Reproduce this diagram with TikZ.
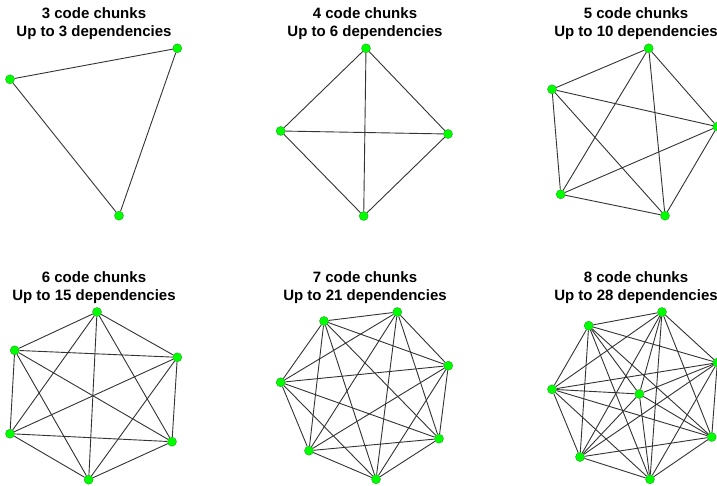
\documentclass[tikz,border=0pt]{standalone}
\usepackage{fontspec}
\setmainfont{Liberation Sans}
\usetikzlibrary{backgrounds}

\tikzset{
  chunk/.style={circle, fill=green, draw=green!60!black, line width=0.3pt,
    inner sep=0pt, minimum size=9pt},
  dep/.style={draw=black!80, line width=0.9pt},
  heading/.style={font=\bfseries\fontsize{15}{18}\selectfont, align=center}
}

\begin{document}
\begin{tikzpicture}[x=1pt, y=-1pt]
    \clip (0, 0) rectangle (717, 486);

    % headings
    \node [heading] (t3) at (94, 23.5) {3 code chunks\\Up to 3 dependencies};
    \node [heading] (t4) at (365, 23.5) {4 code chunks\\Up to 6 dependencies};
    \node [heading] (t5) at (636, 23.5) {5 code chunks\\Up to 10 dependencies};
    \node [heading] (t6) at (94, 287.5) {6 code chunks\\Up to 15 dependencies};
    \node [heading] (t7) at (365, 287.5) {7 code chunks\\Up to 21 dependencies};
    \node [heading] (t8) at (636, 287.5) {8 code chunks\\Up to 28 dependencies};

    % 3 chunks
    \node [chunk] (a1) at (177.3, 48.3) {};
    \node [chunk] (a2) at (10, 79.3) {};
    \node [chunk] (a3) at (119, 215.7) {};

    % 4 chunks
    \node [chunk] (b1) at (366, 48.3) {};
    \node [chunk] (b2) at (280.7, 131) {};
    \node [chunk] (b3) at (448, 134) {};
    \node [chunk] (b4) at (363.7, 216) {};

    % 5 chunks
    \node [chunk] (c1) at (648.7, 48.3) {};
    \node [chunk] (c2) at (552, 89.3) {};
    \node [chunk] (c3) at (717.3, 126.7) {};
    \node [chunk] (c4) at (560.7, 194.3) {};
    \node [chunk] (c5) at (665, 215.7) {};

    % 6 chunks
    \node [chunk] (d1) at (97, 312) {};
    \node [chunk] (d2) at (14.7, 350.3) {};
    \node [chunk] (d3) at (177.3, 357.3) {};
    \node [chunk] (d4) at (10, 433.7) {};
    \node [chunk] (d5) at (172, 441.7) {};
    \node [chunk] (d6) at (88.7, 479.7) {};

    % 7 chunks
    \node [chunk] (e1) at (397.3, 312) {};
    \node [chunk] (e2) at (324, 321) {};
    \node [chunk] (e3) at (448.3, 365.7) {};
    \node [chunk] (e4) at (280.7, 382.3) {};
    \node [chunk] (e5) at (439, 438.7) {};
    \node [chunk] (e6) at (309, 450.7) {};
    \node [chunk] (e7) at (376, 479.3) {};

    % 8 chunks
    \node [chunk] (f1) at (662, 312) {};
    \node [chunk] (f2) at (588.7, 325.7) {};
    \node [chunk] (f3) at (717.3, 362.7) {};
    \node [chunk] (f4) at (552, 389.3) {};
    \node [chunk] (f5) at (639.3, 394) {};
    \node [chunk] (f6) at (711.7, 437) {};
    \node [chunk] (f7) at (580, 457) {};
    \node [chunk] (f8) at (650, 479.3) {};

    % every chunk depends on every other one
    \begin{pgfonlayer}{background}
      \foreach \g/\n in {a/3, b/4, c/5, d/6, e/7, f/8} {
        \pgfmathtruncatemacro{\last}{\n - 1}
        \foreach \i in {1,...,\last} {
          \pgfmathtruncatemacro{\next}{\i + 1}
          \foreach \j in {\next,...,\n}
            \draw [dep] (\g\i) -- (\g\j);
        }
      }
    \end{pgfonlayer}
\end{tikzpicture}
\end{document}
